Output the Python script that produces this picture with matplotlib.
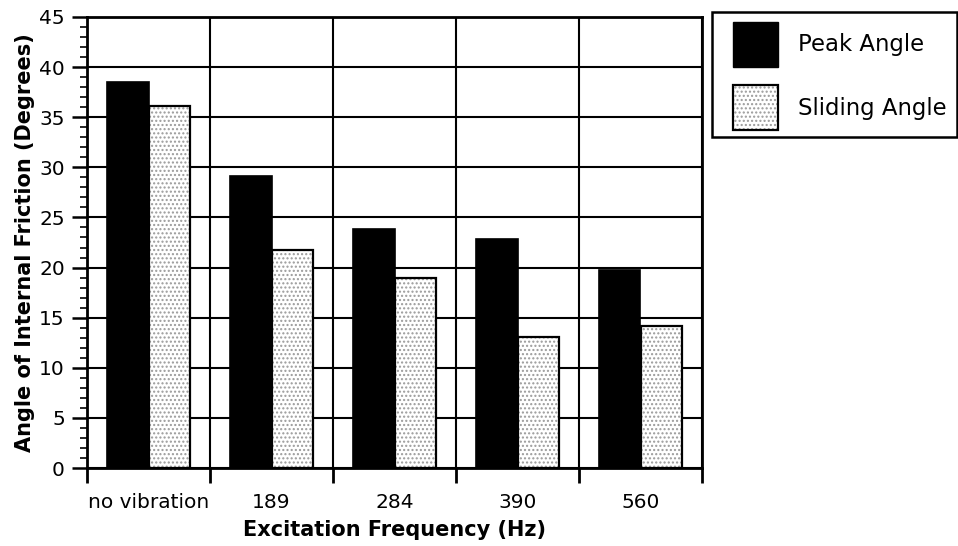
import matplotlib
matplotlib.use("Agg")
import matplotlib.pyplot as plt
import matplotlib.colors as mcolors
import numpy as np
from matplotlib.patches import Patch, Rectangle

plt.rcParams['font.family'] = ['DejaVu Sans']

categories = ["no vibration", "189", "284", "390", "560"]
peak_angle = [38.5, 29.1, 23.8, 22.8, 19.8]
sliding_angle = [36.1, 21.8, 19.0, 13.1, 14.2]
series_names = ["Peak Angle", "Sliding Angle"]
y_ticks = [0, 5, 10, 15, 20, 25, 30, 35, 40, 45]

fig = plt.figure(figsize=(9.58, 5.46), dpi=100)
ax = fig.add_axes([87/958, 1-468/546, (702-87)/958, (468-17)/546])

x = np.arange(len(categories))
w = 0.34
ax.bar(x - w/2, peak_angle, w, color='black', edgecolor='black', linewidth=1.2, zorder=3)
ax.bar(x + w/2, sliding_angle, w, color='white', edgecolor='#9a9a9a', hatch='....', linewidth=0, zorder=3)
ax.bar(x + w/2, sliding_angle, w, fill=False, edgecolor='black', linewidth=1.6, zorder=4)

ax.set_xlim(-0.5, len(categories) - 0.5)
ax.set_ylim(0, 45)
ax.set_yticks(y_ticks)
ax.set_yticks(np.arange(0, 46, 1), minor=True)
ax.set_xticks(x)
ax.set_xticklabels(categories)
ax.set_xticks(np.arange(-0.5, len(categories), 1), minor=True)

ax.tick_params(axis='x', which='major', length=0, labelsize=14.5, pad=18)
ax.tick_params(axis='x', which='minor', direction='out', length=11, width=2)
ax.tick_params(axis='y', which='major', direction='out', length=11, width=1.8, labelsize=14.5, pad=5)
ax.tick_params(axis='y', which='minor', direction='out', length=5, width=1.2)

ax.grid(True, axis='y', which='major', color='black', linewidth=1.5, zorder=1)
ax.grid(True, axis='x', which='minor', color='black', linewidth=1.5, zorder=1)
ax.set_axisbelow(True)
for s in ax.spines.values():
    s.set_linewidth(2)

ax.set_xlabel("Excitation Frequency (Hz)", fontsize=15, fontweight='bold', labelpad=6)
ax.set_ylabel("Angle of Internal Friction (Degrees)", fontsize=15, fontweight='bold', labelpad=3)

# legend frame
fig.patches.append(Rectangle((712/958, 1-137/546), 245/958, 125/546, transform=fig.transFigure,
                             fill=False, edgecolor='black', linewidth=1.8))
h_peak = Patch(facecolor='black', edgecolor='black')
h_slide = Patch(facecolor='white', edgecolor='black', hatch='....', linewidth=1.6)
h_slide._hatch_color = mcolors.to_rgba('#9a9a9a')
leg = fig.legend([h_peak, h_slide], series_names, loc='upper left',
                 bbox_to_anchor=(733/958, 1-22/546),
                 fontsize=16.4, frameon=False,
                 handlelength=1.97, handleheight=2.66, labelspacing=0.8, handletextpad=0.88,
                 borderpad=0, borderaxespad=0)

fig.savefig("out.png", dpi=100)
